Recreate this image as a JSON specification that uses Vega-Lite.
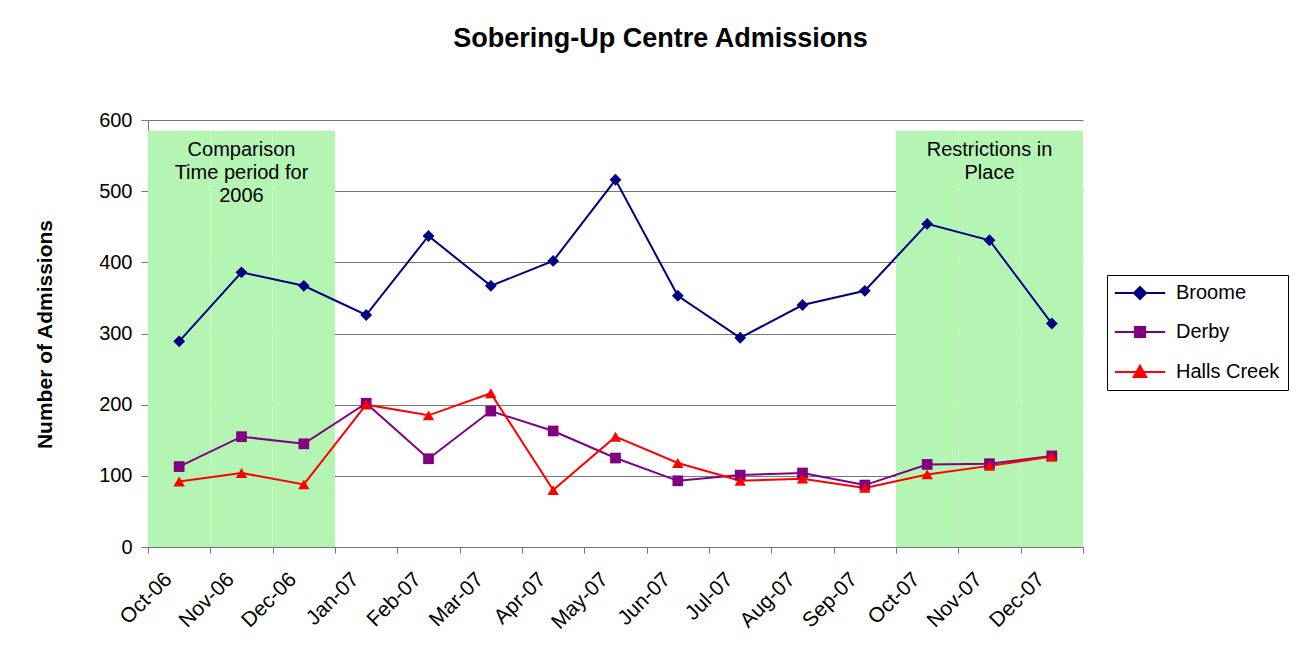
{
  "$schema": "https://vega.github.io/schema/vega-lite/v6.json",
  "width": 935,
  "height": 427,
  "autosize": {"type": "none"},
  "padding": {"left": 148, "top": 120, "right": 213, "bottom": 104},
  "background": "white",
  "title": {
    "text": "Sobering-Up Centre Admissions",
    "font": "Liberation Sans",
    "fontSize": 27,
    "fontWeight": "bold",
    "color": "black",
    "anchor": "middle",
    "baseline": "alphabetic",
    "offset": 36,
    "dx": 45
  },
  "config": {
    "font": "Liberation Sans",
    "view": {"stroke": null},
    "axisX": {
      "title": null,
      "domainColor": "#777777",
      "tickColor": "#777777",
      "tickSize": 6,
      "tickBand": "extent",
      "labelAngle": -45,
      "labelAlign": "right",
      "labelBaseline": "middle",
      "labelOffset": -11,
      "labelPadding": 23,
      "labelFont": "Liberation Sans",
      "labelFontSize": 21,
      "labelColor": "black",
      "grid": false
    },
    "axisY": {
      "domainColor": "#777777",
      "tickColor": "#777777",
      "gridColor": "#777777",
      "gridWidth": 1,
      "tickSize": 7,
      "labelPadding": 9,
      "labelFont": "Liberation Sans",
      "labelFontSize": 20,
      "labelColor": "black",
      "titleFont": "Liberation Sans",
      "titleFontSize": 21,
      "titleFontWeight": "bold",
      "titleColor": "black",
      "titleX": -103,
      "titleY": 214,
      "titleBaseline": "middle",
      "titleAlign": "center"
    },
    "legend": {
      "title": null,
      "orient": "none",
      "legendX": 959,
      "legendY": 155,
      "strokeColor": "black",
      "fillColor": "white",
      "padding": 8,
      "labelFont": "Liberation Sans",
      "labelFontSize": 20,
      "labelColor": "black",
      "symbolSize": 144,
      "symbolOffset": 15,
      "labelOffset": 26,
      "rowPadding": 19,
      "symbolStrokeWidth": 2,
      "symbolOpacity": 1
    }
  },
  "datasets": {
    "admissions": [
      {"month": "Oct-06", "series": "Broome", "value": 289},
      {"month": "Nov-06", "series": "Broome", "value": 386},
      {"month": "Dec-06", "series": "Broome", "value": 367},
      {"month": "Jan-07", "series": "Broome", "value": 326},
      {"month": "Feb-07", "series": "Broome", "value": 437},
      {"month": "Mar-07", "series": "Broome", "value": 367},
      {"month": "Apr-07", "series": "Broome", "value": 402},
      {"month": "May-07", "series": "Broome", "value": 516},
      {"month": "Jun-07", "series": "Broome", "value": 353},
      {"month": "Jul-07", "series": "Broome", "value": 294},
      {"month": "Aug-07", "series": "Broome", "value": 340},
      {"month": "Sep-07", "series": "Broome", "value": 360},
      {"month": "Oct-07", "series": "Broome", "value": 454},
      {"month": "Nov-07", "series": "Broome", "value": 431},
      {"month": "Dec-07", "series": "Broome", "value": 314},
      {"month": "Oct-06", "series": "Derby", "value": 113},
      {"month": "Nov-06", "series": "Derby", "value": 155},
      {"month": "Dec-06", "series": "Derby", "value": 145},
      {"month": "Jan-07", "series": "Derby", "value": 202},
      {"month": "Feb-07", "series": "Derby", "value": 124},
      {"month": "Mar-07", "series": "Derby", "value": 191},
      {"month": "Apr-07", "series": "Derby", "value": 163},
      {"month": "May-07", "series": "Derby", "value": 125},
      {"month": "Jun-07", "series": "Derby", "value": 93},
      {"month": "Jul-07", "series": "Derby", "value": 101},
      {"month": "Aug-07", "series": "Derby", "value": 104},
      {"month": "Sep-07", "series": "Derby", "value": 87},
      {"month": "Oct-07", "series": "Derby", "value": 116},
      {"month": "Nov-07", "series": "Derby", "value": 117},
      {"month": "Dec-07", "series": "Derby", "value": 128},
      {"month": "Oct-06", "series": "Halls Creek", "value": 92},
      {"month": "Nov-06", "series": "Halls Creek", "value": 104},
      {"month": "Dec-06", "series": "Halls Creek", "value": 88},
      {"month": "Jan-07", "series": "Halls Creek", "value": 200},
      {"month": "Feb-07", "series": "Halls Creek", "value": 185},
      {"month": "Mar-07", "series": "Halls Creek", "value": 216},
      {"month": "Apr-07", "series": "Halls Creek", "value": 80},
      {"month": "May-07", "series": "Halls Creek", "value": 155},
      {"month": "Jun-07", "series": "Halls Creek", "value": 118},
      {"month": "Jul-07", "series": "Halls Creek", "value": 93},
      {"month": "Aug-07", "series": "Halls Creek", "value": 96},
      {"month": "Sep-07", "series": "Halls Creek", "value": 83},
      {"month": "Oct-07", "series": "Halls Creek", "value": 102},
      {"month": "Nov-07", "series": "Halls Creek", "value": 114},
      {"month": "Dec-07", "series": "Halls Creek", "value": 127}
    ],
    "shading": [
      {"month": "Oct-06", "top": 585},
      {"month": "Nov-06", "top": 585},
      {"month": "Dec-06", "top": 585},
      {"month": "Oct-07", "top": 585},
      {"month": "Nov-07", "top": 585},
      {"month": "Dec-07", "top": 585}
    ],
    "notes": [
      {"month": "Nov-06", "pos": 572, "note": "Comparison\nTime period for\n2006"},
      {"month": "Nov-07", "pos": 572, "note": "Restrictions in\nPlace"}
    ]
  },
  "layer": [
    {
      "data": {"name": "shading"},
      "mark": {"type": "bar", "color": "#b4f5b4"},
      "encoding": {
        "x": {"field": "month", "type": "ordinal", "title": null,
              "scale": {"type": "band", "paddingInner": 0, "paddingOuter": 0,
                        "domain": ["Oct-06","Nov-06","Dec-06","Jan-07","Feb-07","Mar-07","Apr-07","May-07","Jun-07","Jul-07","Aug-07","Sep-07","Oct-07","Nov-07","Dec-07"]}},
        "y": {"field": "top", "type": "quantitative", "title": "Number of Admissions",
              "scale": {"domain": [0, 600], "nice": false},
              "axis": {"values": [0, 100, 200, 300, 400, 500, 600]}}
      }
    },
    {
      "data": {"name": "admissions"},
      "mark": {"type": "line", "strokeWidth": 2},
      "encoding": {
        "x": {"field": "month", "type": "ordinal", "title": null,
              "scale": {"type": "band", "paddingInner": 0, "paddingOuter": 0,
                        "domain": ["Oct-06","Nov-06","Dec-06","Jan-07","Feb-07","Mar-07","Apr-07","May-07","Jun-07","Jul-07","Aug-07","Sep-07","Oct-07","Nov-07","Dec-07"]}},
        "y": {"field": "value", "type": "quantitative", "title": "Number of Admissions"},
        "color": {
          "field": "series", "type": "nominal",
          "scale": {"domain": ["Broome", "Derby", "Halls Creek"], "range": ["#000080", "#800080", "#ff0000"]},
          "legend": {
            "encode": {
              "symbols": {
                "update": {
                  "shape": {"signal": "datum.value === 'Broome' ? 'M-4.2,0H4.2M0,-1L1,0L0,1L-1,0Z' : (datum.value === 'Derby' ? 'M-4.2,0H4.2M-0.85,-0.85H0.85V0.85H-0.85Z' : 'M-4.2,0H4.2M0,-1.05L1.05,0.85H-1.05Z')"},
                  "fill": {"signal": "scale('color', datum.value)"},
                  "stroke": {"signal": "scale('color', datum.value)"},
                  "strokeWidth": {"value": 2},
                  "opacity": {"value": 1}
                }
              }
            }
          }
        }
      }
    },
    {
      "data": {"name": "admissions"},
      "transform": [{"filter": {"field": "series", "equal": "Broome"}}],
      "mark": {"type": "point", "shape": "diamond", "filled": true, "size": 140, "opacity": 1},
      "encoding": {
        "x": {"field": "month", "type": "ordinal", "title": null,
              "scale": {"type": "band", "paddingInner": 0, "paddingOuter": 0,
                        "domain": ["Oct-06","Nov-06","Dec-06","Jan-07","Feb-07","Mar-07","Apr-07","May-07","Jun-07","Jul-07","Aug-07","Sep-07","Oct-07","Nov-07","Dec-07"]}},
        "y": {"field": "value", "type": "quantitative", "title": "Number of Admissions"},
        "color": {"field": "series", "type": "nominal",
                  "scale": {"domain": ["Broome", "Derby", "Halls Creek"], "range": ["#000080", "#800080", "#ff0000"]}}
      }
    },
    {
      "data": {"name": "admissions"},
      "transform": [{"filter": {"field": "series", "equal": "Derby"}}],
      "mark": {"type": "point", "shape": "square", "filled": true, "size": 115, "opacity": 1},
      "encoding": {
        "x": {"field": "month", "type": "ordinal", "title": null,
              "scale": {"type": "band", "paddingInner": 0, "paddingOuter": 0,
                        "domain": ["Oct-06","Nov-06","Dec-06","Jan-07","Feb-07","Mar-07","Apr-07","May-07","Jun-07","Jul-07","Aug-07","Sep-07","Oct-07","Nov-07","Dec-07"]}},
        "y": {"field": "value", "type": "quantitative", "title": "Number of Admissions"},
        "color": {"field": "series", "type": "nominal",
                  "scale": {"domain": ["Broome", "Derby", "Halls Creek"], "range": ["#000080", "#800080", "#ff0000"]}}
      }
    },
    {
      "data": {"name": "admissions"},
      "transform": [{"filter": {"field": "series", "equal": "Halls Creek"}}],
      "mark": {"type": "point", "shape": "triangle-up", "filled": true, "size": 130, "opacity": 1},
      "encoding": {
        "x": {"field": "month", "type": "ordinal", "title": null,
              "scale": {"type": "band", "paddingInner": 0, "paddingOuter": 0,
                        "domain": ["Oct-06","Nov-06","Dec-06","Jan-07","Feb-07","Mar-07","Apr-07","May-07","Jun-07","Jul-07","Aug-07","Sep-07","Oct-07","Nov-07","Dec-07"]}},
        "y": {"field": "value", "type": "quantitative", "title": "Number of Admissions"},
        "color": {"field": "series", "type": "nominal",
                  "scale": {"domain": ["Broome", "Derby", "Halls Creek"], "range": ["#000080", "#800080", "#ff0000"]}}
      }
    },
    {
      "data": {"name": "notes"},
      "mark": {"type": "text", "align": "center", "baseline": "top", "fontSize": 20, "lineHeight": 23, "lineBreak": "\n", "color": "black", "font": "Liberation Sans"},
      "encoding": {
        "x": {"field": "month", "type": "ordinal", "title": null,
              "scale": {"type": "band", "paddingInner": 0, "paddingOuter": 0,
                        "domain": ["Oct-06","Nov-06","Dec-06","Jan-07","Feb-07","Mar-07","Apr-07","May-07","Jun-07","Jul-07","Aug-07","Sep-07","Oct-07","Nov-07","Dec-07"]}},
        "y": {"field": "pos", "type": "quantitative", "title": "Number of Admissions"},
        "text": {"field": "note"}
      }
    }
  ]
}
